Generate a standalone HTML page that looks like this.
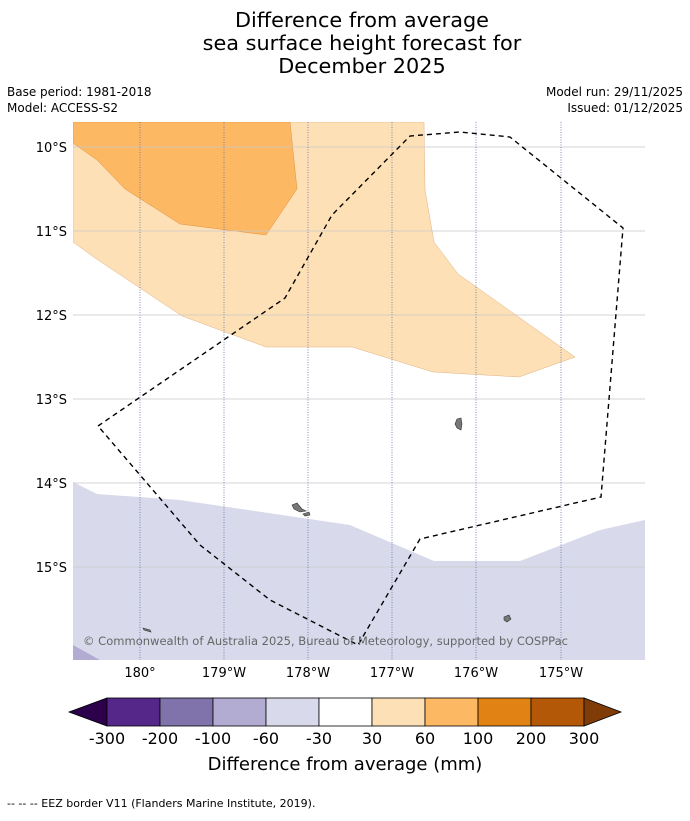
<!DOCTYPE html>
<html><head><meta charset="utf-8"><style>
body{margin:0;background:#fff;width:690px;height:816px;overflow:hidden;font-family:"Liberation Sans","DejaVu Sans",sans-serif}
svg text{font-family:"DejaVu Sans","Liberation Sans",sans-serif}
</style></head><body>
<svg width="690" height="816">
<g font-size="20.8" text-anchor="middle" fill="#000">
<text x="362" y="27">Difference from average</text>
<text x="362" y="50">sea surface height forecast for</text>
<text x="362" y="73">December 2025</text>
</g>
<g font-size="12" fill="#000">
<text x="7" y="96">Base period: 1981-2018</text>
<text x="7" y="112">Model: ACCESS-S2</text>
<text x="683" y="96" text-anchor="end">Model run: 29/11/2025</text>
<text x="683" y="112" text-anchor="end">Issued: 01/12/2025</text>
</g>
<defs><clipPath id="mc"><rect x="73" y="122" width="572" height="538"/></clipPath></defs>
<g clip-path="url(#mc)">
<rect x="73" y="122" width="572" height="538" fill="#fff"/>
<polygon fill="#fee0b6" stroke="#e0b080" stroke-width="0.5" points="73,122 424,122 425,190 434,242 458,274 520,318 575,357 519,377 433,372 352,347 266,347 182,316 95,258 73,242"/>
<polygon fill="#fdb863" stroke="#e09040" stroke-width="0.5" points="73,122 290,122 297,189 266,235 180,224 125,189 97,160 73,143"/>
<polygon fill="#d8daeb" points="73,482 97,494 180,500 350,525 434,561 520,561 600,530 645,520 645,660 73,660"/>
<polygon fill="#b2abd2" points="73,645 100,660 73,660"/>
<g stroke="#c8c8c8" stroke-width="0.7">
<line x1="73" x2="645" y1="147" y2="147"/><line x1="73" x2="645" y1="231" y2="231"/><line x1="73" x2="645" y1="315" y2="315"/><line x1="73" x2="645" y1="399" y2="399"/><line x1="73" x2="645" y1="483" y2="483"/><line x1="73" x2="645" y1="567" y2="567"/>
</g>
<g stroke="#6670a0" stroke-width="0.8" stroke-dasharray="1,1.5">
<line x1="140" x2="140" y1="122" y2="660"/><line x1="224" x2="224" y1="122" y2="660"/><line x1="308" x2="308" y1="122" y2="660"/><line x1="392" x2="392" y1="122" y2="660"/><line x1="476" x2="476" y1="122" y2="660"/><line x1="561" x2="561" y1="122" y2="660"/>
</g>
<g fill="#777" stroke="#333" stroke-width="0.6">
<path d="M457,419 L461,418 L462,424 L461,430 L457,428 L455,424Z"/>
<path d="M292,505 L297,503 L302,509 L306,511 L300,512 L294,509Z"/>
<path d="M303,514 L309,512 L310,515 L305,516Z"/>
<path d="M504,617 L509,615 L511,619 L507,622 L504,620Z"/>
<path d="M143,628 L150,630 L151,632 L144,630Z"/>
</g>
<polyline fill="none" stroke="#000" stroke-width="1.4" stroke-dasharray="5,4" points="98,426 285,298 332,215 410,136 460,132 510,137 623,228 601,497 420,539 358,645 270,600 200,545 98,426"/>
<text x="83" y="645" font-size="11.6" fill="#666" textLength="485" lengthAdjust="spacingAndGlyphs">© Commonwealth of Australia 2025, Bureau of Meteorology, supported by COSPPac</text>
</g>
<g font-size="13" fill="#000" text-anchor="end">
<text x="67" y="152">10°S</text><text x="67" y="236">11°S</text><text x="67" y="320">12°S</text><text x="67" y="404">13°S</text><text x="67" y="488">14°S</text><text x="67" y="572">15°S</text>
</g>
<g font-size="13" fill="#000" text-anchor="middle">
<text x="140" y="677">180°</text><text x="224" y="677">179°W</text><text x="308" y="677">178°W</text><text x="392" y="677">177°W</text><text x="476" y="677">176°W</text><text x="561" y="677">175°W</text>
</g>
<g stroke="#000" stroke-width="0.8">
<polygon points="107,698 107,726 69,712" fill="#2d004b"/>
<rect x="107" y="698" width="53" height="28" fill="#542788"/>
<rect x="160" y="698" width="53" height="28" fill="#8073ac"/>
<rect x="213" y="698" width="53" height="28" fill="#b2abd2"/>
<rect x="266" y="698" width="53" height="28" fill="#d8daeb"/>
<rect x="319" y="698" width="53" height="28" fill="#ffffff"/>
<rect x="372" y="698" width="53" height="28" fill="#fee0b6"/>
<rect x="425" y="698" width="53" height="28" fill="#fdb863"/>
<rect x="478" y="698" width="53" height="28" fill="#e08214"/>
<rect x="531" y="698" width="53" height="28" fill="#b35806"/>
<polygon points="584,698 584,726 621,712" fill="#7f3b08"/>
</g>
<g font-size="16" fill="#000" text-anchor="middle">
<text x="107" y="744">-300</text><text x="160" y="744">-200</text><text x="213" y="744">-100</text><text x="266" y="744">-60</text><text x="319" y="744">-30</text><text x="372" y="744">30</text><text x="425" y="744">60</text><text x="478" y="744">100</text><text x="531" y="744">200</text><text x="584" y="744">300</text>
</g>
<text x="345" y="770" font-size="18" text-anchor="middle">Difference from average (mm)</text>
<text x="7" y="807" font-size="11">--  --  -- EEZ border V11 (Flanders Marine Institute, 2019).</text>
</svg>
</body></html>
